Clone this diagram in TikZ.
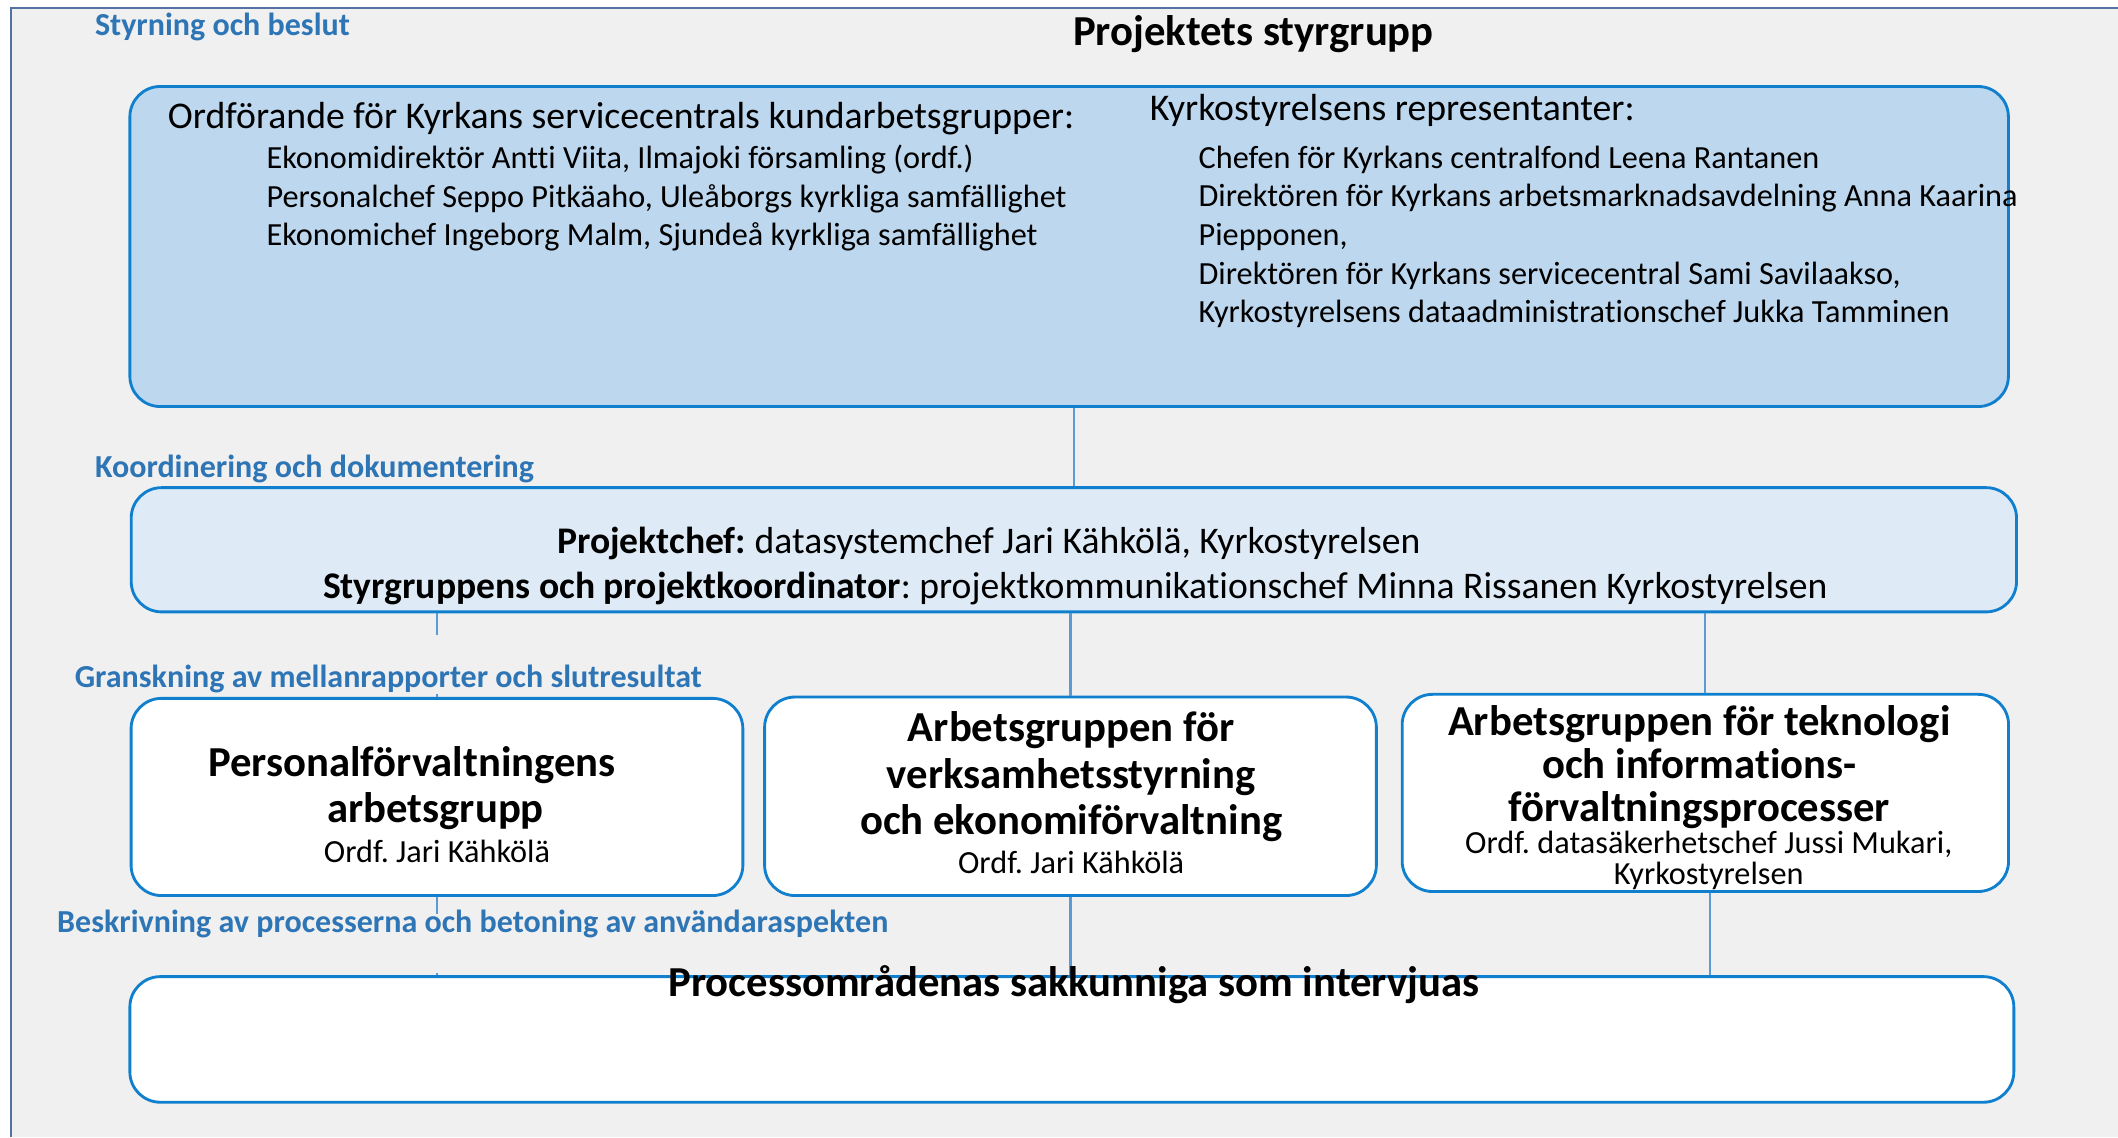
\documentclass[tikz,border=0pt]{standalone}
\usepackage{fontspec}
\setmainfont{Carlito}[Ligatures=NoCommon]
\usepackage{xcolor}
\usetikzlibrary{positioning}

\definecolor{ram}{RGB}{84,115,165}
\definecolor{grund}{RGB}{240,240,240}
\definecolor{kant}{RGB}{16,128,206}
\definecolor{linje}{RGB}{91,155,213}
\definecolor{etikettbla}{RGB}{46,117,182}
\definecolor{styrfyll}{RGB}{189,215,238}
\definecolor{koordfyll}{RGB}{222,235,247}

\tikzset{
  ruta/.style={draw=kant, line width=1.2pt, rounded corners=0.45cm, inner sep=0pt},
  forbind/.style={draw=linje, line width=0.9pt},
  etikett/.style={text=etikettbla, font=\fontsize{13.5}{16}\selectfont\bfseries, inner sep=0pt},
  rubrik/.style={font=\fontsize{18}{19.6}\selectfont\bfseries, align=center, inner sep=0pt},
  ordf/.style={font=\fontsize{13.6}{12.8}\selectfont, align=center, inner sep=0pt},
  lista/.style={font=\fontsize{13.6}{16.3}\selectfont, align=left, inner sep=0pt},
  huvud/.style={font=\fontsize{15.9}{18}\selectfont, inner sep=0pt},
  rad/.style={font=\fontsize{15.85}{18}\selectfont, inner sep=0pt},
}

\begin{document}
\frenchspacing
\begin{tikzpicture}[x=0.02cm, y=-0.02cm]
    \useasboundingbox (0,0) rectangle (1568,842);
    \fill[grund] (8,6) rectangle (1568,842);
    \draw[ram, line width=0.6pt] (8,842) -- (8,6) -- (1568,6);

    \node[etikett, anchor=west] (l_styr) at (70,20) {Styrning och beslut};
    \node[rubrik] (titel) at (928,25) {Projektets styrgrupp};

    % styrgruppen
    \node[ruta, fill=styrfyll, minimum width=27.82cm, minimum height=4.74cm] (styr) at (791.5,182.5) {};
    \node[huvud, anchor=west] (ordf_rub) at (124,88) {Ordförande för Kyrkans servicecentrals kundarbetsgrupper:};
    \node[lista, anchor=north west] (ordf_lista) at (197,107) {Ekonomidirektör Antti Viita, Ilmajoki församling (ordf.)\\
        Personalchef Seppo Pitkäaho, Uleåborgs kyrkliga samfällighet\\
        Ekonomichef Ingeborg Malm, Sjundeå kyrkliga samfällighet};
    \node[huvud, anchor=west] (repr_rub) at (851,82) {Kyrkostyrelsens representanter:};
    \node[lista, anchor=north west] (repr_lista) at (887,107.5) {Chefen för Kyrkans centralfond Leena Rantanen\\
        Direktören för Kyrkans arbetsmarknadsavdelning Anna Kaarina\\
        Piepponen,\\
        Direktören för Kyrkans servicecentral Sami Savilaakso,\\
        Kyrkostyrelsens dataadministrationschef Jukka Tamminen};

    % koordinering
    \node[ruta, fill=koordfyll, minimum width=27.92cm, minimum height=1.84cm] (koord) at (795,407) {};
    \node[rad] (chef) at (732,402) {\textbf{Projektchef:} datasystemchef Jari Kähkölä, Kyrkostyrelsen};
    \node[rad] (koordinator) at (796,436) {\textbf{Styrgruppens och projektkoordinator}: projektkommunikationschef Minna Rissanen Kyrkostyrelsen};

    % arbetsgrupper
    \node[ruta, fill=white, minimum width=9.06cm, minimum height=2.92cm] (grp1) at (323.5,590) {};
    \node[ruta, fill=white, minimum width=9.06cm, minimum height=2.94cm] (grp2) at (792.5,589.5) {};
    \node[ruta, fill=white, minimum width=8.98cm, minimum height=2.92cm] (grp3) at (1262.5,587) {};

    \node[rubrik] (grp1_rub) at (322.5,583.5) {Personalförvaltningens\hspace*{0.7cm}\\arbetsgrupp};
    \node[ordf] (grp1_ordf) at (323.5,630) {Ordf. Jari Kähkölä};
    \node[rubrik] (grp2_rub) at (793,575) {Arbetsgruppen för\\verksamhetsstyrning\\och ekonomiförvaltning};
    \node[ordf] (grp2_ordf) at (793,638.5) {Ordf. Jari Kähkölä};
    \node[rubrik, font=\fontsize{18}{18}\selectfont\bfseries] (grp3_rub) at (1258,568) {Arbetsgruppen för teknologi\\och informations-\\förvaltningsprocesser};
    \node[ordf] (grp3_ordf) at (1265,637) {Ordf. datasäkerhetschef Jussi Mukari,\\Kyrkostyrelsen};

    % sakkunniga
    \node[ruta, fill=white, minimum width=27.9cm, minimum height=1.86cm] (proc) at (793.5,769.5) {};

    \draw[forbind] (koord.north |- styr.south) -- (koord.north);
    \draw[forbind] (grp1.north |- koord.south) -- (grp1.north);
    \draw[forbind] (grp2.north |- koord.south) -- (grp2.north);
    \draw[forbind] (grp3.north |- koord.south) -- (grp3.north);
    \draw[forbind] (grp1.south) -- (grp1.south |- proc.north);
    \draw[forbind] (grp2.south) -- (grp2.south |- proc.north);
    \draw[forbind] ([xshift=0.07cm]grp3.south) -- ([xshift=0.07cm]grp3.south |- proc.north);

    \node[etikett, anchor=west] (l_koord) at (70,347) {Koordinering och dokumentering};
    \node[etikett, anchor=base west, fill=grund, text height=0.78cm, text depth=0.1cm] (l_gransk) at (55,509) {Granskning av mellanrapporter och slutresultat};
    \node[etikett, anchor=base west, fill=grund, text height=0.26cm, text depth=0.6cm] (l_beskr) at (42,690) {Beskrivning av processerna och betoning av användaraspekten};

    \node[rubrik] (proc_rub) at (795,729) {Processområdenas sakkunniga som intervjuas};
\end{tikzpicture}
\end{document}
